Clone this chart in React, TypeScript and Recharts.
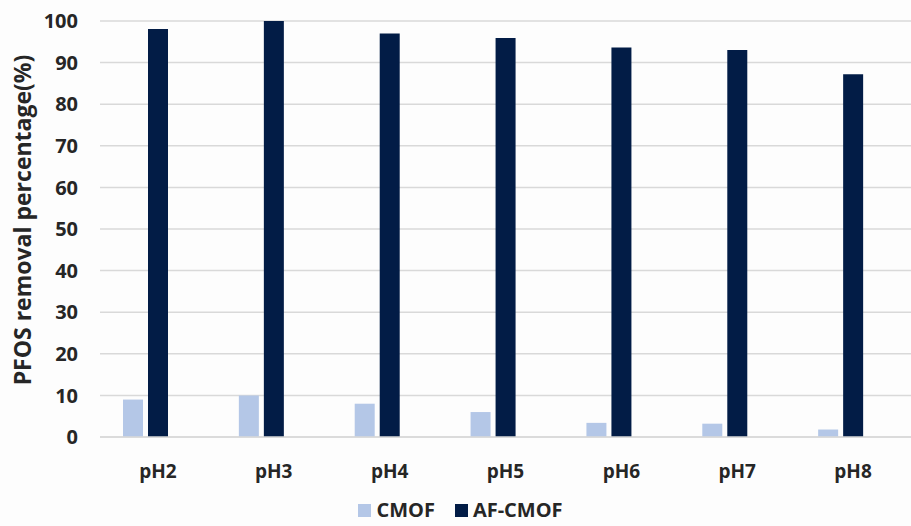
import React from "react";
import {
  BarChart,
  Bar,
  XAxis,
  YAxis,
  CartesianGrid,
  Legend,
} from "recharts";

const categories = ["pH2", "pH3", "pH4", "pH5", "pH6", "pH7", "pH8"];
const cmof = [9, 10, 8, 6, 3.4, 3.2, 1.8];
const afCmof = [98.1, 100, 97, 95.9, 93.6, 93, 87.2];
const yTicks = [0, 10, 20, 30, 40, 50, 60, 70, 80, 90, 100];

const data = categories.map((name, i) => ({
  name,
  CMOF: cmof[i],
  "AF-CMOF": afCmof[i],
}));

const FONT = "'Open Sans', sans-serif";
const TEXT = "#262626";

// y title sits a bit above the plot center, like the Excel original
const YTitle = (props: any) => {
  const { viewBox } = props;
  const cx = 22;
  const cy = viewBox.y + viewBox.height / 2 - 9;
  return (
    <text
      x={cx}
      y={cy}
      transform={`rotate(-90, ${cx}, ${cy})`}
      textAnchor="middle"
      dominantBaseline="central"
      fill={TEXT}
      style={{ fontFamily: FONT, fontSize: 23, fontWeight: 700 }}
    >
      PFOS removal percentage(%)
    </text>
  );
};

const renderLegend = () => (
  <div
    style={{
      display: "flex",
      justifyContent: "center",
      gap: 20,
      paddingTop: 4,
      paddingLeft: 10,
      fontFamily: FONT,
      fontSize: 20,
      fontWeight: 700,
      color: TEXT,
      lineHeight: "26px",
    }}
  >
    {[
      { label: "CMOF", color: "#B4C7E7" },
      { label: "AF-CMOF", color: "#021C46" },
    ].map((it) => (
      <span key={it.label} style={{ display: "flex", alignItems: "center" }}>
        <span
          style={{
            width: 13,
            height: 13,
            background: it.color,
            display: "inline-block",
            marginRight: 5,
          }}
        />
        {it.label}
      </span>
    ))}
  </div>
);

export default function App() {
  return (
    <div
      style={{
        position: "absolute",
        left: 0,
        top: 0,
        width: 911,
        height: 526,
        background: "#fdfdfd",
        overflow: "hidden",
      }}
    >
      <BarChart
        width={911}
        height={526}
        data={data}
        margin={{ top: 21, right: 0, left: 0, bottom: 0 }}
        barSize={20}
        barGap={5}
      >
        <CartesianGrid vertical={false} stroke="#d9d9d9" strokeWidth={1.5} />
        <XAxis
          dataKey="name"
          axisLine={{ stroke: "#d9d9d9", strokeWidth: 1.5 }}
          tickLine={false}
          height={56}
          tickMargin={22}
          tick={{ fill: TEXT, fontFamily: FONT, fontSize: 19, fontWeight: 700 }}
        />
        <YAxis
          domain={[0, 100]}
          ticks={yTicks}
          interval={0}
          width={100}
          axisLine={false}
          tickLine={false}
          tickMargin={16}
          tick={{ fill: TEXT, fontFamily: FONT, fontSize: 20, fontWeight: 700 }}
          label={<YTitle />}
        />
        <Legend
          verticalAlign="bottom"
          content={renderLegend}
          wrapperStyle={{ bottom: 0, height: 33 }}
        />
        <Bar dataKey="CMOF" fill="#B4C7E7" isAnimationActive={false} />
        <Bar dataKey="AF-CMOF" fill="#021C46" isAnimationActive={false} />
        {/* empty third slot keeps the pair left of the tick, as in the original */}
        <Bar dataKey="spacer" legendType="none" fill="none" isAnimationActive={false} />
      </BarChart>
    </div>
  );
}
